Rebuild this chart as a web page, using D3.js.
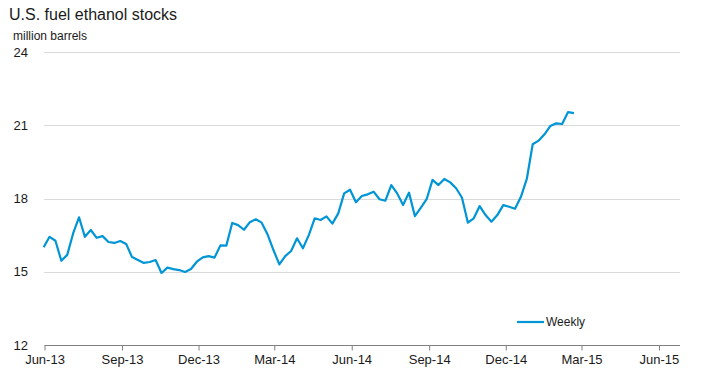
<!DOCTYPE html>
<html>
<head>
<meta charset="utf-8">
<script src="https://cdn.jsdelivr.net/npm/d3@7"></script>
<style>
  html, body { margin: 0; padding: 0; background: #fff; }
  svg { display: block; font-family: "Liberation Sans", Arial, sans-serif; }
</style>
</head>
<body>
<svg id="chart" width="719" height="384"></svg>
<script>
// ---- data ----
const title = "U.S. fuel ethanol stocks";
const unitLabel = "million barrels";
const seriesName = "Weekly";
const firstWeek = "2013-05-31";
const weeklyStocks = [
  16.00, 16.43, 16.27, 15.45, 15.69, 16.57, 17.23, 16.43, 16.71, 16.39,
  16.46, 16.22, 16.18, 16.26, 16.14, 15.60, 15.48, 15.36, 15.40, 15.48,
  14.95, 15.17, 15.11, 15.07, 14.99, 15.11, 15.41, 15.59, 15.64, 15.58,
  16.08, 16.07, 17.00, 16.91, 16.72, 17.03, 17.15, 17.01, 16.53, 15.89,
  15.30, 15.64, 15.85, 16.37, 15.96, 16.50, 17.19, 17.12, 17.27, 16.97,
  17.39, 18.21, 18.36, 17.85, 18.10, 18.17, 18.28, 17.97, 17.91, 18.55,
  18.21, 17.73, 18.24, 17.28, 17.62, 17.97, 18.76, 18.55, 18.80, 18.66,
  18.42, 18.03, 17.01, 17.19, 17.69, 17.32, 17.05, 17.32, 17.73, 17.66,
  17.58, 18.07, 18.80, 20.22, 20.37, 20.63, 20.97, 21.08, 21.05, 21.54,
  21.50
];
const yTicks = [12, 15, 18, 21, 24];
const xTickDates = ["2013-06-01","2013-09-01","2013-12-01","2014-03-01","2014-06-01",
                    "2014-09-01","2014-12-01","2015-03-01","2015-06-01"];
const xTickLabels = ["Jun-13","Sep-13","Dec-13","Mar-14","Jun-14","Sep-14","Dec-14","Mar-15","Jun-15"];
const xDomain = ["2013-06-01", "2015-06-26"];

// ---- setup ----
const parse = d3.utcParse("%Y-%m-%d");
const start = parse(firstWeek);
const weeks = weeklyStocks.map((v, i) => ({ date: d3.utcDay.offset(start, 7 * i), value: v }));

const svg = d3.select("#chart");
const plotLeft = 44.5, plotRight = 680, plotTop = 52, plotBottom = 345;

const x = d3.scaleUtc().domain(xDomain.map(parse)).range([plotLeft, plotRight]);
const y = d3.scaleLinear().domain([12, 24]).range([plotBottom, plotTop]);

const lineColor = "#0095d5";
const textColor = "#1a1a1a";

// title
svg.append("text").attr("x", 9).attr("y", 20)
  .attr("font-size", 16).attr("fill", textColor).text(title);
svg.append("text").attr("x", 13).attr("y", 40)
  .attr("font-size", 12).attr("fill", textColor).text(unitLabel);

// gridlines
svg.append("g").selectAll("line").data(yTicks.filter(t => t !== 12)).join("line")
  .attr("x1", plotLeft).attr("x2", plotRight)
  .attr("y1", d => Math.round(y(d)) + 0.5).attr("y2", d => Math.round(y(d)) + 0.5)
  .attr("stroke", "#b4b4b4").attr("stroke-width", 1).attr("stroke-dasharray", "1,1");

// y tick labels
svg.append("g").selectAll("text").data(yTicks).join("text")
  .attr("x", 28).attr("y", d => y(d)).attr("dy", "0.35em")
  .attr("text-anchor", "end").attr("font-size", 13).attr("fill", textColor)
  .text(d => d);

// x axis
const xAxis = d3.axisBottom(x)
  .tickValues(xTickDates.map(parse))
  .tickFormat((d, i) => xTickLabels[i])
  .tickSize(5).tickSizeOuter(0);
const gx = svg.append("g").attr("transform", `translate(0,${plotBottom + 0.5})`).call(xAxis);
gx.select(".domain").attr("stroke", "#808080").attr("d", `M${plotLeft},0H${plotRight}`);
gx.selectAll(".tick line").attr("stroke", "#808080");
gx.selectAll(".tick text").attr("font-size", 13).attr("fill", textColor)
  .attr("font-family", "Liberation Sans, Arial, sans-serif").attr("y", 9).attr("dy", "0.71em");

// line
const line = d3.line().x(d => x(d.date)).y(d => y(d.value));
svg.append("path").datum(weeks)
  .attr("fill", "none").attr("stroke", lineColor).attr("stroke-width", 2.2)
  .attr("stroke-linejoin", "round").attr("d", line);

// legend
svg.append("line").attr("x1", 517).attr("x2", 544).attr("y1", 322).attr("y2", 322)
  .attr("stroke", lineColor).attr("stroke-width", 2.2);
svg.append("text").attr("x", 546).attr("y", 326)
  .attr("font-size", 12).attr("fill", textColor).text(seriesName);
</script>
</body>
</html>
